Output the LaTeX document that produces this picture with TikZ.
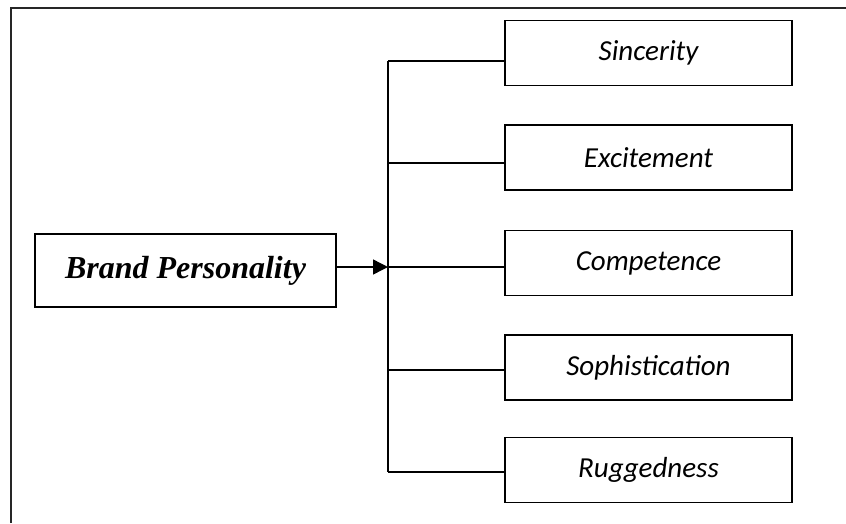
\documentclass[tikz,border=0pt]{standalone}
\usepackage{fontspec}
\setmainfont{Liberation Serif}
\newfontfamily\calibri{Carlito}
\usetikzlibrary{arrows.meta,positioning,calc}

\begin{document}
\begin{tikzpicture}[x=1pt, y=-1pt,
      dim/.style={draw, line width=1.4pt, minimum width=287pt, minimum height=65pt, inner sep=0pt, font=\calibri\fontsize{29}{32}\selectfont\itshape},
      root/.style={draw, line width=1.4pt, minimum width=301pt, minimum height=73pt, inner sep=0pt, font=\fontsize{32}{36}\selectfont\bfseries\itshape},
      arr/.style={-{Triangle[length=15pt,width=15pt]}, line width=1.4pt},
      ln/.style={line width=1.4pt}
    ]
    \useasboundingbox (0,0) rectangle (846,523);
    \draw[line width=2.2pt, black!85] (11,523) -- (11,8) -- (846,8);
    \node[root] (brand) at (185.5,270.5) {Brand Personality};
    \node[dim] (sinc) at (648.5,53) {Sincerity};
    \node[dim] (exci) at (648.5,157.5) {Excitement};
    \node[dim] (comp) at (648.5,263) {Competence};
    \node[dim] (soph) at (648.5,367.5) {Sophistication};
    \node[dim] (rugg) at (648.5,470) {Ruggedness};
    \coordinate (j1) at (388,61); \coordinate (j2) at (388,163);
    \coordinate (j3) at (388,267); \coordinate (j4) at (388,370);
    \coordinate (j5) at (388,472);
    \draw[ln] (j1) -- (j5);
    \draw[arr] (brand.east |- j3) -- (j3);
    \draw[ln] (j1) -- (j1 -| sinc.west); \draw[ln] (j2) -- (j2 -| exci.west);
    \draw[ln] (j3) -- (j3 -| comp.west); \draw[ln] (j4) -- (j4 -| soph.west);
    \draw[ln] (j5) -- (j5 -| rugg.west);
  \end{tikzpicture}
\end{document}
